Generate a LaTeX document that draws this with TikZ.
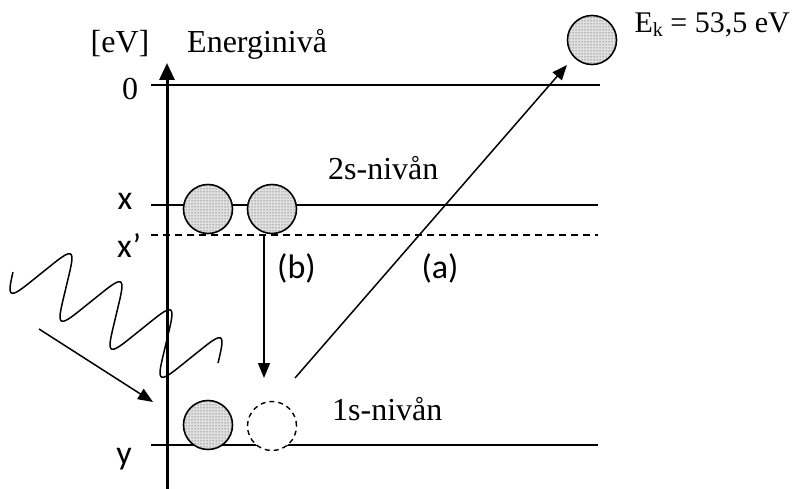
\documentclass[tikz,border=0pt]{standalone}
\usepackage{fontspec}
\setmainfont{Liberation Serif}
\newfontfamily\calib{Carlito}
\usetikzlibrary{arrows.meta,patterns}
\begin{document}
\begin{tikzpicture}[x=1pt,y=-1pt,
  serif/.style={font=\fontsize{32}{37}\selectfont, inner sep=0pt, anchor=base west},
  sans/.style={font=\calib\fontsize{34}{40}\selectfont, inner sep=0pt, anchor=base west},
  level/.style={line width=1.5pt},
  electron/.style={circle, draw, line width=1.6pt, fill=black!12, postaction={pattern=dots, pattern color=black!80}, minimum size=49pt, inner sep=0pt},
  hole/.style={circle, draw, line width=1.4pt, dash pattern=on 5pt off 4pt, fill=white, minimum size=49pt, inner sep=0pt},
  arr/.style={line width=1.5pt, -{Triangle[length=15pt,width=12pt]}}]
\useasboundingbox (0,0) rectangle (800,489);
% levels
\coordinate (l0a) at (151,85);  \coordinate (l0b) at (600,85);
\coordinate (lxa) at (151,205); \coordinate (lxb) at (598,205);
\coordinate (lda) at (151,235); \coordinate (ldb) at (598,235);
\coordinate (lya) at (151,445); \coordinate (lyb) at (598,445);
\draw[level] (l0a) -- (l0b);
\draw[level] (lxa) -- (lxb);
\draw[level, dash pattern=on 7pt off 5pt] (lda) -- (ldb);
\draw[level] (lya) -- (lyb);
% axis
\coordinate (axb) at (167,489); \coordinate (axt) at (167,63);
\draw[line width=3pt, -{Triangle[length=17pt,width=15pt]}] (axb) -- (axt);
% wave
\draw[line width=1.5pt] plot[domain=-2.67:21.68, samples=400, smooth, variable=\u]
  ({41+50*\u/6.2832+17*0.96*(sin(\u r)-sin(3*\u r)/25)}, {273.5+28*\u/6.2832-26.5*0.96*(sin(\u r)-sin(3*\u r)/25)});
% electrons
\node[electron] (c1) at (208,209) {};
\node[electron] (c2) at (272,209) {};
\node[electron] (c3) at (208,425) {};
\node[hole] (c4) at (272,426) {};
\node[electron] (c5) at (592,40) {};
% arrows
\coordinate (bs) at (264,235); \coordinate (be) at (264,378);
\draw[arr] (bs) -- (be);
\coordinate (as) at (295,378); \coordinate (ae) at (567,65);
\draw[arr] (as) -- (ae);
\coordinate (ps) at (39,329); \coordinate (pe) at (153,402);
\draw[arr] (ps) -- (pe);
% labels
\node[serif, anchor=base] (ev) at (120,53) {[eV]};
\node[serif] (en) at (187,53) {Energinivå};
\node[serif, anchor=base] (z) at (130,100) {0};
\node[serif, anchor=base east, font=\fontsize{30}{35}\selectfont] (ek) at (790,33) {E\raisebox{-4pt}{\fontsize{20}{20}\selectfont k} = 53,5 eV};
\node[serif] (s2) at (328,179) {2s-nivån};
\node[serif] (s1) at (332,420) {1s-nivån};
\node[sans, anchor=base] (lx) at (125,209) {x};
\node[sans] (lxp) at (117,257) {x’};
\node[sans, anchor=base] (ly) at (124,464) {y};
\node[sans] (lb) at (277,278) {(b)};
\node[sans, anchor=base] (la) at (440,278) {(a)};
\end{tikzpicture}
\end{document}
